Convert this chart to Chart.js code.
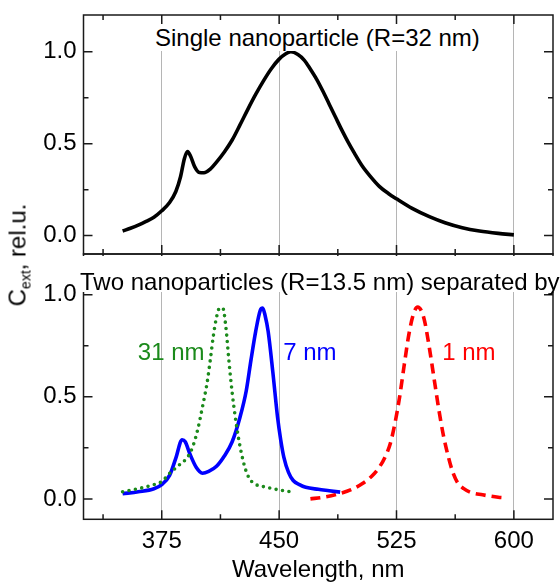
<!DOCTYPE html>
<html><head><meta charset="utf-8">
<script src="https://cdn.jsdelivr.net/npm/chart.js@4/dist/chart.umd.min.js"></script>
<style>
html,body{margin:0;padding:0;background:#fff;overflow:hidden;width:560px;height:583px;}
#wrap{position:relative;width:560px;height:583px;overflow:hidden;font-family:"Liberation Sans",Arial,sans-serif;}
canvas{position:absolute;left:0;}
#cTop{top:0;}
#cBot{top:240px;}
.lbl{position:absolute;background:#fff;font-size:24px;color:#000;white-space:nowrap;}
#t1{left:155px;top:24px;height:27px;line-height:27px;}
#t2{left:80px;top:256px;height:36px;line-height:27px;padding-top:11.5px;box-sizing:border-box;padding-right:10px;}
#ytitle{position:absolute;left:19px;top:255px;transform:translate(-50%,-50%) rotate(-90deg);font-size:24px;line-height:28px;white-space:nowrap;color:#000;}
#ytitle span{font-size:14px;position:relative;top:5px;}
</style></head>
<body>
<div id="wrap">
<canvas id="cTop" width="560" height="256"></canvas>
<canvas id="cBot" width="560" height="346"></canvas>
<div class="lbl" id="t1">Single nanoparticle (R=32 nm)</div>
<div class="lbl" id="t2">Two nanoparticles (R=13.5 nm) separated by</div>
<div id="ytitle">C<span>ext</span>, rel.u.</div>
</div>
<script>
// ---- data (wavelength in nm, relative extinction) ----
const singleWl  = [350,355,360,365,370,375,380,384,387,389.5,391.5,393.5,396,399,402,406,410,415,420,425,430,435,440,445,450,454,457.5,462,466,470,474,478,482,486,490,494,498,503,508,514,520,525,535,546,556,567,578,590,600];
const singleExt = [0.025,0.04,0.057,0.077,0.10,0.135,0.18,0.24,0.32,0.42,0.457,0.43,0.375,0.343,0.342,0.362,0.40,0.455,0.52,0.602,0.687,0.768,0.842,0.908,0.96,0.988,1.0,0.985,0.955,0.905,0.85,0.785,0.715,0.645,0.575,0.51,0.45,0.38,0.325,0.268,0.228,0.20,0.148,0.103,0.07,0.043,0.025,0.012,0.004];

const gap7Wl  = [350,360,370,375,380,384,388,390,393,397,401,405,410,415,420,425,429,432,435,438,439.5,441,443,446,449,451,453,456,459,463,467,475,482,489];
const gap7Ext = [0.025,0.035,0.05,0.07,0.115,0.20,0.29,0.28,0.22,0.155,0.126,0.135,0.16,0.21,0.28,0.40,0.53,0.68,0.82,0.925,0.935,0.90,0.82,0.62,0.40,0.29,0.205,0.13,0.09,0.07,0.057,0.047,0.04,0.033];

const gap31Wl  = [350,360,370,375,380,386,392,395,398,401,404,406,408,410,412,414,416,418,420,422,424,426,428.5,431,434,440,446,453,460];
const gap31Ext = [0.035,0.05,0.07,0.085,0.125,0.165,0.21,0.26,0.34,0.45,0.57,0.68,0.80,0.89,0.935,0.935,0.84,0.67,0.52,0.40,0.30,0.22,0.145,0.10,0.075,0.06,0.05,0.04,0.033];

const gap1Wl  = [470,478,488,496,503,509,514,518,521,524,527,530,533,536,538.5,541,543,546,549,552,555,558,561,564,568,572,580,590,595];
const gap1Ext = [0.0,0.008,0.025,0.045,0.074,0.11,0.155,0.21,0.27,0.37,0.50,0.66,0.81,0.91,0.94,0.92,0.87,0.74,0.59,0.44,0.31,0.21,0.13,0.08,0.05,0.033,0.02,0.008,0.005];

const xMajor = [375,450,525,600];
const xMinor = [337.5,412.5,487.5,562.5];
const yMajor = [0,0.5,1.0];
const yMinor = [0.25,0.75];
const curveLabels = [
  {text:'31 nm', wl:359.7, ext:0.68, color:'#1b8a1b'},
  {text:'7 nm',  wl:452.6, ext:0.68, color:'#0000ff'},
  {text:'1 nm',  wl:554.2, ext:0.68, color:'#ff0000'}
];

const FONT = '"Liberation Sans", Arial, sans-serif';
const pts = (xs, ys) => xs.map((x, i) => ({x: x, y: ys[i]}));

const framePlugin = {
  id: 'frame',
  afterDraw(chart, args, opts) {
    const ctx = chart.ctx, a = chart.chartArea, xs = chart.scales.x, ys = chart.scales.y;
    ctx.save();
    ctx.setLineDash([]);
    ctx.strokeStyle = '#1a1a1a';
    ctx.lineWidth = 1.5;
    ctx.strokeRect(a.left, a.top, a.right - a.left, a.bottom - a.top);
    ctx.beginPath();
    const xt = (v, len) => { const p = xs.getPixelForValue(v);
      ctx.moveTo(p, a.bottom); ctx.lineTo(p, a.bottom - len);
      ctx.moveTo(p, a.top); ctx.lineTo(p, a.top + len); };
    const yt = (v, len) => { const p = ys.getPixelForValue(v);
      ctx.moveTo(a.left, p); ctx.lineTo(a.left + len, p);
      ctx.moveTo(a.right, p); ctx.lineTo(a.right - len, p); };
    xMajor.forEach(v => xt(v, 9)); xMinor.forEach(v => xt(v, 5));
    yMajor.forEach(v => yt(v, 9)); yMinor.forEach(v => yt(v, 5));
    ctx.stroke();
    (opts.labels || []).forEach(l => {
      ctx.fillStyle = l.color;
      ctx.font = '24px ' + FONT;
      ctx.textBaseline = 'alphabetic';
      ctx.textAlign = 'left';
      ctx.fillText(l.text, xs.getPixelForValue(l.wl), ys.getPixelForValue(l.ext));
    });
    ctx.restore();
  }
};

function makeScales(showX) {
  return {
    x: {
      type: 'linear', min: 325, max: 625,
      afterBuildTicks: s => { s.ticks = xMajor.map(v => ({value: v})); },
      afterFit: s => { s.height = showX ? 66.7 : 0; s.paddingLeft = 0; s.paddingRight = 0; },
      grid: {color: '#b5b5b5', lineWidth: 1, drawTicks: false},
      border: {display: false},
      ticks: {display: showX, autoSkip: false, maxRotation: 0, padding: 8, color: '#000',
              font: {size: 24, family: FONT}, callback: v => String(v)},
      title: {display: showX, text: 'Wavelength, nm', color: '#000',
              font: {size: 24, family: FONT}, padding: {top: 0, bottom: 1}}
    },
    y: {
      type: 'linear', min: -0.1, max: 1.2,
      afterBuildTicks: s => { s.ticks = yMajor.map(v => ({value: v})); },
      afterFit: s => { s.width = 83.5; s.paddingTop = 0; s.paddingBottom = 0; },
      grid: {display: false, drawTicks: false},
      border: {display: false},
      ticks: {padding: 7, color: '#000', font: {size: 24, family: FONT}, callback: v => Number(v).toFixed(1)}
    }
  };
}

const common = {
  responsive: false, animation: false, devicePixelRatio: 1,
  elements: {point: {radius: 0}, line: {cubicInterpolationMode: 'monotone', fill: false}}
};

new Chart(document.getElementById('cTop'), {
  type: 'line',
  data: {datasets: [
    {data: pts(singleWl, singleExt), borderColor: '#000', borderWidth: 3.6}
  ]},
  options: Object.assign({}, common, {
    layout: {padding: {top: 15, right: 7, bottom: 2, left: 0}},
    scales: makeScales(false),
    plugins: {legend: {display: false}, tooltip: {enabled: false}, frame: {labels: []}}
  }),
  plugins: [framePlugin]
});

new Chart(document.getElementById('cBot'), {
  type: 'line',
  data: {datasets: [
    {data: pts(gap31Wl, gap31Ext), borderColor: '#1b8a1b', borderWidth: 3.6,
     borderDash: [0, 6.5], borderCapStyle: 'round', borderJoinStyle: 'round'},
    {data: pts(gap7Wl, gap7Ext), borderColor: '#0000ff', borderWidth: 3.6},
    {data: pts(gap1Wl, gap1Ext), borderColor: '#ff0000', borderWidth: 3.6,
     borderDash: [10, 6], borderCapStyle: 'butt'}
  ]},
  options: Object.assign({}, common, {
    layout: {padding: {top: 14, right: 7, bottom: 0, left: 0}},
    scales: makeScales(true),
    plugins: {legend: {display: false}, tooltip: {enabled: false}, frame: {labels: curveLabels}}
  }),
  plugins: [framePlugin]
});
</script>
</body></html>
